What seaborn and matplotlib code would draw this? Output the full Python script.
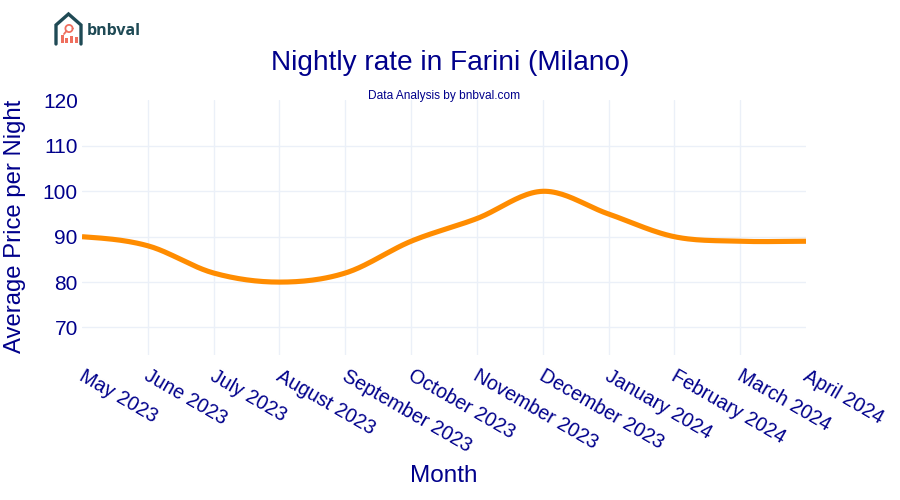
import numpy as np
import pandas as pd
import matplotlib
matplotlib.use("Agg")
import matplotlib.pyplot as plt
from matplotlib.lines import Line2D
from matplotlib.patches import Rectangle
from matplotlib.transforms import ScaledTranslation
import seaborn as sns

months = ["May 2023", "June 2023", "July 2023", "August 2023", "September 2023",
          "October 2023", "November 2023", "December 2023", "January 2024",
          "February 2024", "March 2024", "April 2024"]
prices = [90, 88, 82, 80, 82, 89, 94, 100, 95, 90, 89, 89]
y_ticks = [70, 80, 90, 100, 110, 120]

NAVY = "#00008b"
ORANGE = "#ff8c00"
GRID = "#ebf0f8"
W, H = 900, 500

def smooth_curve(values, steps=24):
    """Plotly-like spline through the monthly values."""
    v = np.asarray(values, float)
    n = len(v)
    xs, ys = [], []
    for i in range(n - 1):
        m0 = (v[i + 1] - v[i - 1]) / 2 if i > 0 else (v[1] - v[0]) / 2
        m1 = (v[i + 2] - v[i]) / 2 if i < n - 2 else (v[-1] - v[-2]) / 2
        t = np.linspace(0, 1, steps, endpoint=False)
        h = (2*t**3 - 3*t**2 + 1)*v[i] + (t**3 - 2*t**2 + t)*m0 \
            + (-2*t**3 + 3*t**2)*v[i+1] + (t**3 - t**2)*m1
        xs.append(i + t)
        ys.append(h)
    return np.append(np.concatenate(xs), n - 1), np.append(np.concatenate(ys), v[-1])

sns.set_theme(style="white")
plt.rcParams["font.family"] = ["Liberation Sans", "DejaVu Sans"]

fig = plt.figure(figsize=(W / 100, H / 100), dpi=100, facecolor="white")
L, R, T, B = 82, 806, 100, 355
ax = fig.add_axes([L / W, 1 - B / H, (R - L) / W, (B - T) / H])

cx, cy = smooth_curve(prices)
df = pd.DataFrame({"x": cx, "price": cy})
sns.lineplot(data=df, x="x", y="price", ax=ax, color=ORANGE, linewidth=3.7,
             errorbar=None, estimator=None, sort=False, zorder=3,
             solid_capstyle="butt")

ax.set_xlim(0, len(months) - 1)
y_per_px = 50 / (327.5 - 100.5)
ax.set_ylim(120 - (B - 100.5) * y_per_px, 120 + 0.5 * y_per_px)
ax.set_yticks(y_ticks)
ax.set_xticks(range(len(months)))
ax.set_xticklabels(months, rotation=-30, ha="left", rotation_mode="anchor",
                   fontsize=14.15, color=NAVY)
ax.tick_params(axis="y", labelsize=15, labelcolor=NAVY, length=0, pad=3)
ax.tick_params(axis="x", length=0, pad=8)
shift = ScaledTranslation(3 / 100, 0, fig.dpi_scale_trans)
for lab in ax.get_xticklabels():
    lab.set_transform(lab.get_transform() + shift)
ax.grid(True, color=GRID, linewidth=1)
ax.set_axisbelow(True)
xg = ax.get_xgridlines()
xg[0].set_visible(False)
xg[-1].set_visible(False)
ax.get_ygridlines()[-1].set_visible(False)
for s in ax.spines.values():
    s.set_visible(False)
ax.set_xlabel("")
ax.set_ylabel("")

fig.text(450 / W, 1 - 62.5 / H, "Nightly rate in Farini (Milano)", color=NAVY,
         fontsize=20.2, ha="center", va="center")
fig.text(444 / W, 1 - 96 / H, "Data Analysis by bnbval.com", color=NAVY,
         fontsize=8.6, ha="center", va="center")
fig.text(444 / W, 1 - 476 / H, "Month", color=NAVY, fontsize=17.5, ha="center", va="center")
fig.text(15.5 / W, 1 - 226.5 / H, "Average Price per Night", color=NAVY, fontsize=17.2,
         rotation=90, ha="center", va="center")

# logo
def px(x, y):
    return x / W, 1 - np.asarray(y, float) / H
DARK = "#1f4a55"
CORAL = "#ef6f5e"
hx = np.array([56, 56, 68.5, 81, 81])
hy = np.array([44, 25, 14, 25, 44])
fx, fy = px(hx, hy)
fig.add_artist(Line2D(fx, fy, color=DARK, linewidth=2.4, solid_joinstyle="miter"))
for x0, top in [(61, 35), (65, 38), (70, 36), (74.5, 37)]:
    a, b = px(x0, 43)
    fig.add_artist(Rectangle((a, b), 3 / W, (43 - top) / H, color=CORAL, lw=0))
t = np.linspace(0, 2 * np.pi, 40)
ca, cb = px(69 + 3.6 * np.cos(t), 28.5 + 3.6 * np.sin(t))
fig.add_artist(Line2D(ca, cb, color=CORAL, linewidth=1.3))
la, lb = px(np.array([66.5, 64]), np.array([31, 34]))
fig.add_artist(Line2D(la, lb, color=CORAL, linewidth=1.3))
fig.text(87 / W, 1 - 31 / H, "bnbval", color=DARK, fontsize=11.5, fontweight="bold",
         family=["Open Sans", "DejaVu Sans"], ha="left", va="center")

fig.savefig("out.png", dpi=100)
